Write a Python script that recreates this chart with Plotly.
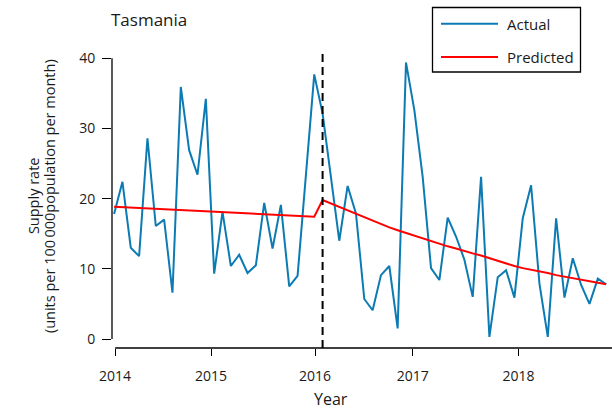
import plotly.graph_objects as go

# Monthly supply rate, Tasmania, Jan 2014 - Dec 2018
months = [f"{y}-{m:02d}" for y in range(2014, 2019) for m in range(1, 13)]

actual = [
    17.8, 22.4, 13.0, 11.8, 28.6, 16.1, 17.0, 6.6, 35.9, 26.9, 23.4, 34.2,
    9.3, 18.1, 10.4, 12.0, 9.4, 10.5, 19.4, 12.9, 19.1, 7.5, 9.0, 23.3,
    37.7, 32.1, 23.1, 14.0, 21.8, 17.9, 5.7, 4.1, 9.1, 10.4, 1.5, 39.4,
    32.6, 23.1, 10.1, 8.4, 17.3, 14.6, 11.3, 6.0, 23.1, 0.3, 8.8, 9.8,
    5.9, 17.2, 21.9, 7.9, 0.3, 17.2, 5.9, 11.5, 7.7, 5.0, 8.6, 7.8,
]

predicted = [
    18.85, 18.79, 18.73, 18.67, 18.61, 18.55, 18.49, 18.43, 18.37, 18.31, 18.25, 18.19,
    18.13, 18.07, 18.01, 17.95, 17.89, 17.83, 17.77, 17.71, 17.65, 17.59, 17.53, 17.47,
    17.41, 19.8, 19.3, 18.8, 18.3, 17.8, 17.3, 16.8, 16.4, 15.9, 15.5, 15.1,
    14.7, 14.3, 13.9, 13.6, 13.2, 12.9, 12.5, 12.2, 11.9, 11.5, 11.1, 10.8,
    10.4, 10.1, 9.9, 9.6, 9.4, 9.1, 8.9, 8.7, 8.5, 8.2, 8.0, 7.8,
]

year_labels = ["2014", "2015", "2016", "2017", "2018"]
year_tick_pos = [0.12, 11.63, 24.1, 35.8, 48.5]   # in month-index units
intervention_month = "2016-02"

y_ticks = [0, 10, 20, 30, 40]

BLUE = "#0C7BB3"
RED = "#FF0000"
FONT = "Open Sans"
TEXT = "#1a1a1a"

x = list(range(len(months)))
x_break = months.index(intervention_month)

fig = go.Figure()
fig.add_trace(go.Scatter(x=x, y=actual, mode="lines", name="Actual",
                         line=dict(color=BLUE, width=2)))
fig.add_trace(go.Scatter(x=x, y=predicted, mode="lines", name="Predicted",
                         line=dict(color=RED, width=2)))

shapes = [
    # intervention marker
    dict(type="line", xref="x", yref="paper", x0=x_break, x1=x_break, y0=0, y1=1,
         line=dict(color="black", width=2, dash="8px,5px")),
    # bounded axis lines
    dict(type="line", xref="paper", yref="y", x0=0, x1=0, y0=y_ticks[0], y1=y_ticks[-1],
         line=dict(color="black", width=1.3)),
    dict(type="line", xref="x", yref="paper", x0=year_tick_pos[0], x1=61, y0=0, y1=0,
         line=dict(color="black", width=1.3)),
    # legend box and samples
    dict(type="rect", xref="paper", yref="paper", x0=0.641, x1=0.937, y0=0.923, y1=1.1388,
         line=dict(color="black", width=1.3), fillcolor="white"),
    dict(type="line", xref="paper", yref="paper", x0=0.658, x1=0.772, y0=1.0846, y1=1.0846,
         line=dict(color=BLUE, width=2)),
    dict(type="line", xref="paper", yref="paper", x0=0.658, x1=0.772, y0=0.9732, y1=0.9732,
         line=dict(color=RED, width=2)),
]

annotations = [
    dict(text="Tasmania", xref="paper", yref="paper", x=-0.006, y=1.097,
         xanchor="left", yanchor="middle", showarrow=False,
         font=dict(family=FONT, size=17, color=TEXT)),
    dict(text="Year", xref="paper", yref="paper", x=0.438, y=-0.172,
         xanchor="center", yanchor="middle", showarrow=False,
         font=dict(family=FONT, size=16, color=TEXT)),
    dict(text="Supply rate", xref="paper", yref="paper", x=-0.158, y=0.508,
         xanchor="center", yanchor="middle", textangle=-90, showarrow=False,
         font=dict(family=FONT, size=14.5, color=TEXT)),
    dict(text="(units per 100\u2009000population per month)", xref="paper", yref="paper",
         x=-0.126, y=0.508, xanchor="center", yanchor="middle", textangle=-90,
         showarrow=False, font=dict(family=FONT, size=14.5, color=TEXT)),
    dict(text="Actual", xref="paper", yref="paper", x=0.786, y=1.0846,
         xanchor="left", yanchor="middle", showarrow=False,
         font=dict(family=FONT, size=15, color=TEXT)),
    dict(text="Predicted", xref="paper", yref="paper", x=0.786, y=0.9732,
         xanchor="left", yanchor="middle", showarrow=False,
         font=dict(family=FONT, size=15, color=TEXT)),
]

fig.update_layout(
    width=612, height=410,
    margin=dict(l=112, r=0, t=49, b=62),
    paper_bgcolor="white", plot_bgcolor="white",
    showlegend=False,
    font=dict(family=FONT, size=14, color=TEXT),
    shapes=shapes, annotations=annotations,
    xaxis=dict(range=[-0.25, 59.7], tickmode="array", tickvals=year_tick_pos,
               ticktext=year_labels, ticks="outside", ticklen=7, tickwidth=1.3,
               tickcolor="black", showgrid=False, zeroline=False, showline=False,
               ticklabelstandoff=8, tickfont=dict(family=FONT, size=14)),
    yaxis=dict(range=[-1.28, 41.31], tickmode="array", tickvals=y_ticks,
               ticks="outside", ticklen=9, tickwidth=1.3, tickcolor="black",
               showgrid=False, zeroline=False, showline=False,
               ticklabelstandoff=4, tickfont=dict(family=FONT, size=14)),
)

fig.write_html("out.html")
